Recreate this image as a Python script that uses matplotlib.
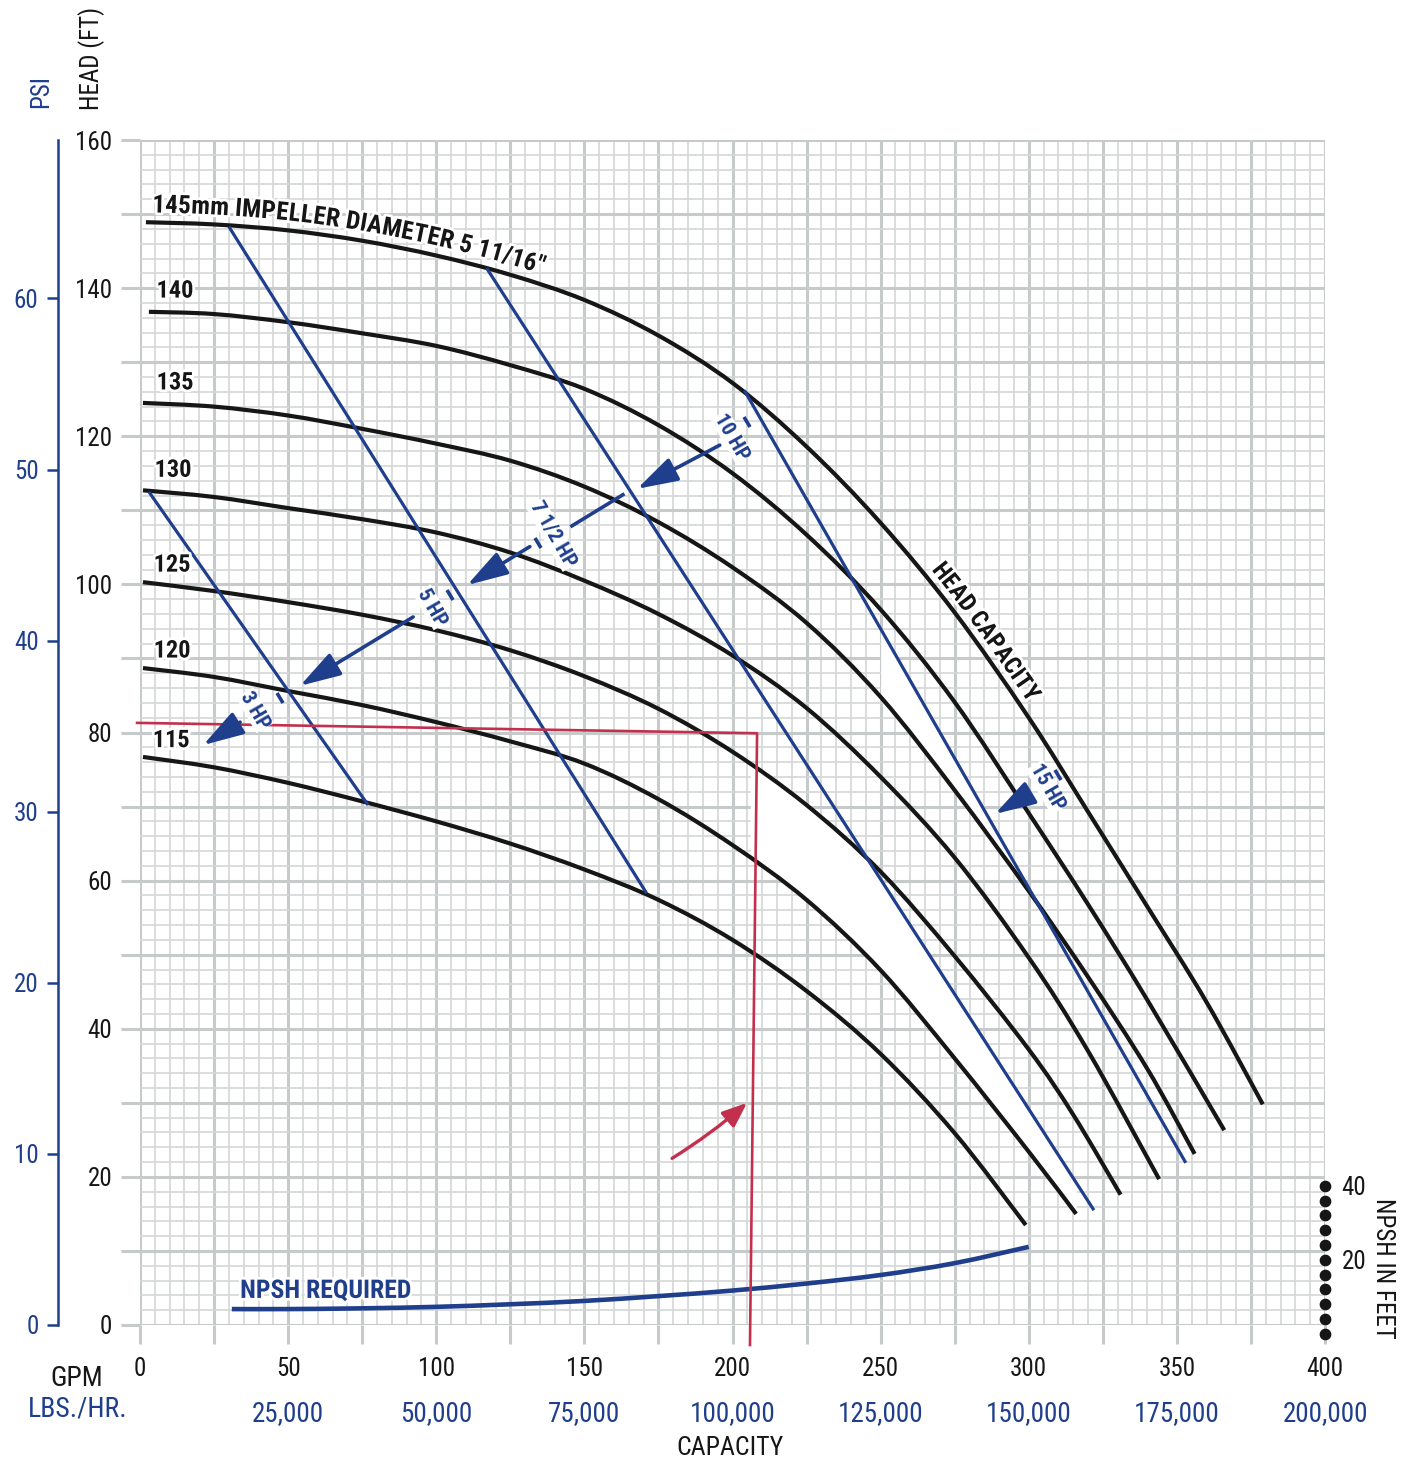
import numpy as np
import matplotlib
matplotlib.use('Agg')
import matplotlib.pyplot as plt
import matplotlib.patheffects as pe
from matplotlib.font_manager import FontProperties
from matplotlib.markers import MarkerStyle
from matplotlib.patches import PathPatch
from matplotlib.path import Path
from matplotlib.transforms import Affine2D
from matplotlib.ticker import MultipleLocator, FixedLocator, FuncFormatter

BLACK = '#161616'
BLUE = '#1f3e8c'
RED = '#c3304e'
GRID_MAJOR = '#c6caca'
GRID_MINOR = '#d4d7d7'
FONT = ['Roboto Condensed', 'DejaVu Sans']

plt.rcParams['font.family'] = FONT

# impeller curves: capacity (GPM) / head (ft)
D145_Q = [2, 25, 50, 75, 100, 125, 150, 175, 200, 225, 250, 275, 300, 320, 340, 360, 379]
D145_H = [148.9, 148.6, 147.8, 146.4, 144.4, 141.8, 138.4, 133.6, 127.2, 118.6, 108.3, 96.2, 82.0, 69.3, 56.5, 43.6, 29.8]
D140_Q = [3, 25, 50, 75, 100, 125, 150, 175, 200, 225, 250, 275, 300, 320, 340, 366]
D140_H = [136.8, 136.5, 135.4, 133.9, 132.2, 129.6, 126.4, 121.5, 115.0, 106.7, 96.6, 84.1, 69.1, 56.8, 43.9, 26.3]
D135_Q = [1, 25, 50, 75, 100, 125, 150, 175, 200, 225, 250, 275, 300, 320, 340, 356]
D135_H = [124.5, 124.0, 122.8, 121.0, 119.0, 116.7, 113.2, 108.4, 102.3, 94.8, 84.8, 72.2, 58.6, 47.0, 34.6, 23.1]
D130_Q = [1, 25, 50, 75, 100, 125, 150, 175, 200, 225, 250, 275, 300, 320, 344]
D130_H = [112.7, 111.8, 110.3, 108.8, 107.0, 104.3, 100.5, 96.0, 90.4, 83.3, 74.0, 63.1, 49.6, 37.0, 19.7]
D125_Q = [1, 25, 50, 75, 100, 125, 150, 175, 200, 225, 250, 275, 300, 315, 331]
D125_H = [100.3, 99.1, 97.6, 95.9, 93.8, 91.1, 87.6, 83.2, 77.4, 70.2, 61.2, 49.8, 37.2, 28.4, 17.6]
D120_Q = [1, 25, 50, 75, 100, 125, 150, 175, 200, 225, 250, 275, 300, 316]
D120_H = [88.7, 87.5, 85.6, 83.7, 81.4, 78.8, 75.8, 71.0, 64.8, 57.4, 47.9, 36.0, 23.4, 15.0]
D115_Q = [1, 25, 50, 75, 100, 125, 150, 175, 200, 225, 250, 275, 299]
D115_H = [76.7, 75.3, 73.2, 70.7, 68.0, 65.0, 61.5, 57.4, 52.0, 45.1, 36.6, 25.9, 13.5]

CURVES = [(D145_Q, D145_H), (D140_Q, D140_H), (D135_Q, D135_H), (D130_Q, D130_H),
          (D125_Q, D125_H), (D120_Q, D120_H), (D115_Q, D115_H)]
CURVE_LABELS = ['140', '135', '130', '125', '120', '115']
CURVE_LABEL_Q = [11.8, 11.8, 11.1, 10.8, 10.8, 10.5]
CURVE_LABEL_H = [139.6, 127.2, 115.4, 102.6, 91.0, 78.9]

# horsepower limit lines (start, end)
HP_LINE_Q = [(3, 77), (30, 171), (117, 322), (204, 353)]
HP_LINE_H = [(112.5, 70.2), (148.3, 58.3), (142.7, 15.5), (126.2, 21.9)]

HP_NAMES = ['10 HP', '7 1/2 HP', '5 HP', '3 HP', '15 HP']
HP_LABEL_Q = [199.8, 139.4, 98.6, 38.8, 306.2]
HP_LABEL_H = [119.9, 106.7, 96.9, 83.0, 72.6]
HP_TICK_Q = [204.9, 134.3, 104.6, 47.3, 309.9]
HP_TICK_H = [121.9, 105.6, 98.6, 84.7, 74.3]
ARROW_TAIL_Q = [195.7, 131.6, 92.2, 33.8, 298.7]
ARROW_TAIL_H = [118.8, 105.1, 95.6, 81.4, 71.4]
ARROW_TIP_Q = [167.8, 110.4, 54.0, 21.3, 288.6]
ARROW_TIP_H = [112.9, 99.9, 86.3, 78.3, 69.0]
EXTRA_SEG_Q = [163.0, 145.8]
EXTRA_SEG_H = [112.1, 107.9]

# NPSH required (ft, read on the right-hand scale)
NPSH_Q = [31, 50, 75, 100, 125, 150, 175, 200, 225, 250, 275, 300]
NPSH_FT = [6.7, 6.7, 6.9, 7.3, 8.0, 8.9, 10.2, 11.7, 13.6, 15.9, 19.1, 23.5]
NPSH_DOTS = list(range(0, 41, 4))

# red duty point
RED_Q = [-1.0, 208.3, 205.9]
RED_H = [81.3, 79.9, -2.7]
RED_ARROW_FROM = (179.6, 22.5)
RED_ARROW_TO = (204.9, 30.0)

LBS_TICKS = [25000 * i for i in range(1, 9)]
PSI_TICKS = list(range(0, 61, 10))


def npsh_to_head(v):
    return np.asarray(v, dtype=float) * 0.5 - 1.2


def head_to_npsh(h):
    return (np.asarray(h, dtype=float) + 1.2) / 0.5


def line_at(q, ends_q, ends_h):
    return ends_h[0] + (np.asarray(q) - ends_q[0]) * (ends_h[1] - ends_h[0]) / (ends_q[1] - ends_q[0])


def smooth_path(q, h):
    # Catmull-Rom through the read points, drawn as cubic Bezier segments
    p = np.column_stack([q, h]).astype(float)
    n = len(p)
    verts, codes = [p[0]], [Path.MOVETO]
    for i in range(n - 1):
        p0 = p[i - 1] if i > 0 else p[i]
        p3 = p[i + 2] if i + 2 < n else p[i + 1]
        verts += [p[i] + (p[i + 1] - p0) / 6, p[i + 1] - (p3 - p[i]) / 6, p[i + 1]]
        codes += [Path.CURVE4] * 3
    return Path(verts, codes)


def text_along(ax, text, path, start_q, offset_px, prop, color):
    # lay characters one by one along a curve, in screen space
    r = ax.figure.canvas.get_renderer()
    pts = ax.transData.transform_path(path).to_polygons(closed_only=False)[0]
    cum = np.concatenate([[0], np.cumsum(np.hypot(*np.diff(pts, axis=0).T))])
    x0 = ax.transData.transform((start_q, 0))[0]
    s0 = np.interp(x0, pts[:, 0], cum)
    widths = [0.0] + [r.get_text_width_height_descent(text[:i], prop, ismath=False)[0]
                      for i in range(1, len(text) + 1)]
    inv = ax.transData.inverted()
    for i, ch in enumerate(text):
        if ch == ' ':
            continue
        s = s0 + 0.5 * (widths[i] + widths[i + 1])
        k = int(np.clip(np.searchsorted(cum, s), 1, len(cum) - 1))
        d = pts[k] - pts[k - 1]
        ang = np.arctan2(d[1], d[0])
        p = np.array([np.interp(s, cum, pts[:, 0]), np.interp(s, cum, pts[:, 1])])
        p = p + offset_px * np.array([-np.sin(ang), np.cos(ang)])
        q, h = inv.transform(p)
        ax.text(q, h, ch, fontproperties=prop, color=color, rotation=np.degrees(ang),
                rotation_mode='anchor', ha='center', va='baseline', zorder=6,
                path_effects=[pe.withStroke(linewidth=4, foreground='white')])


fig = plt.figure(figsize=(14.1, 14.62), dpi=100)
ax = fig.add_axes([140 / 1410, 137 / 1462, 1185 / 1410, 1185 / 1462])
ax.set_xlim(0, 400)
ax.set_ylim(0, 160)
for s in ax.spines.values():
    s.set_visible(False)

ax.xaxis.set_major_locator(MultipleLocator(25))
ax.xaxis.set_minor_locator(MultipleLocator(5))
ax.yaxis.set_major_locator(MultipleLocator(10))
ax.yaxis.set_minor_locator(MultipleLocator(2))
ax.xaxis.set_major_formatter(FuncFormatter(lambda v, _: f'{v:.0f}' if v % 50 == 0 else ''))
ax.yaxis.set_major_formatter(FuncFormatter(lambda v, _: f'{v:.0f}' if v % 20 == 0 else ''))
ax.set_axisbelow(True)
ax.grid(which='minor', color=GRID_MINOR, lw=1.2)
ax.grid(which='major', color=GRID_MAJOR, lw=2.2)
ax.tick_params(which='minor', length=0)
ax.tick_params(axis='y', which='major', length=14, width=2.2, color=GRID_MAJOR, pad=6,
               labelsize=18, labelcolor=BLACK)
ax.tick_params(axis='x', which='major', length=14, width=2.2, color=GRID_MAJOR, pad=9,
               labelsize=18, labelcolor=BLACK)

# white patches of the scanned sheet
qq = np.linspace(206, 316, 200)
low = np.interp(qq, D120_Q, D120_H)
top = np.minimum(np.interp(qq, D125_Q, D125_H), line_at(qq, HP_LINE_Q[2], HP_LINE_H[2]))
ax.fill_between(qq, low, top, where=top > low, color='white', lw=0, zorder=1)
qq2 = np.linspace(250, 295, 100)
low2 = np.interp(qq2, D135_Q, D135_H)
top2 = line_at(qq2, HP_LINE_Q[3], HP_LINE_H[3])
ax.fill_between(qq2, low2, top2, where=top2 > low2, color='white', lw=0, zorder=1)

paths = [smooth_path(q, h) for q, h in CURVES]
for path in paths:
    ax.add_patch(PathPatch(path, fc='none', ec=BLACK, lw=3.0, capstyle='butt', zorder=3))
for q, h in zip(HP_LINE_Q, HP_LINE_H):
    ax.plot(q, h, color=BLUE, lw=2.3, solid_capstyle='butt', zorder=3)

ax.add_patch(PathPatch(smooth_path(NPSH_Q, npsh_to_head(NPSH_FT)), fc='none', ec=BLUE, lw=3.3,
                       capstyle='butt', zorder=3))
ax.scatter([400] * len(NPSH_DOTS), npsh_to_head(NPSH_DOTS), s=55, color=BLACK,
           clip_on=False, zorder=5)

halo = [pe.withStroke(linewidth=4, foreground='white')]
for lab, q, h in zip(CURVE_LABELS, CURVE_LABEL_Q, CURVE_LABEL_H):
    ax.text(q, h, lab, fontsize=17.5, fontweight='bold', color=BLACK, ha='center', va='center',
            path_effects=halo, zorder=6)

bold_title = FontProperties(family=FONT, weight='bold', size=18.3)
text_along(ax, '145mm IMPELLER DIAMETER 5 11/16"', paths[0], 4, 10, bold_title, BLACK)
bold_hc = FontProperties(family=FONT, weight='bold', size=17.5)
text_along(ax, 'HEAD CAPACITY', paths[0], 265, 8, bold_hc, BLACK)

ax.text(33.8, 4.6, 'NPSH REQUIRED', fontsize=18.5, fontweight='bold', color=BLUE,
        ha='left', va='center', path_effects=halo, zorder=6)

# horsepower arrows
bar = MarkerStyle('|', transform=Affine2D().rotate_deg(30))
for name, lq, lh, tq, th, aq, ah, pq, ph in zip(HP_NAMES, HP_LABEL_Q, HP_LABEL_H, HP_TICK_Q, HP_TICK_H,
                                                ARROW_TAIL_Q, ARROW_TAIL_H, ARROW_TIP_Q, ARROW_TIP_H):
    ax.text(lq, lh, name, fontsize=15, fontweight='bold', color=BLUE, ha='center', va='center',
            rotation=-60, rotation_mode='anchor',
            bbox=dict(facecolor='white', edgecolor='none', pad=0.5), zorder=6)
    ax.plot([tq], [th], marker=bar, ms=9, mew=2.6, color=BLUE, zorder=6)
    ax.annotate('', xy=(pq, ph), xytext=(aq, ah), zorder=6,
                arrowprops=dict(arrowstyle='-|>,head_length=1.25,head_width=0.38', color=BLUE,
                                lw=2.6, mutation_scale=20, shrinkA=0, shrinkB=0))
ax.plot(EXTRA_SEG_Q, EXTRA_SEG_H, color=BLUE, lw=2.6, zorder=6)

# red duty point
ax.plot(RED_Q, RED_H, color=RED, lw=1.9, clip_on=False, zorder=4)
ax.annotate('', xy=RED_ARROW_TO, xytext=RED_ARROW_FROM, zorder=4,
            arrowprops=dict(arrowstyle='-|>,head_length=0.75,head_width=0.3', color=RED, lw=2.4,
                            mutation_scale=20, shrinkA=0, shrinkB=0,
                            connectionstyle='arc3,rad=0.04'))

# PSI scale
secy = ax.secondary_yaxis((58 - 140) / 1185, functions=(lambda h: h / 2.31, lambda p: p * 2.31))
secy.yaxis.set_major_locator(FixedLocator(PSI_TICKS))
secy.spines['left'].set_color(BLUE)
secy.spines['left'].set_linewidth(1.8)
secy.tick_params(length=8, width=1.8, color=BLUE, labelcolor=BLUE, labelsize=18, pad=6)

# LBS./HR. scale
secx = ax.secondary_xaxis('bottom', functions=(lambda q: q * 500, lambda l: l / 500))
secx.xaxis.set_major_locator(FixedLocator(LBS_TICKS))
secx.xaxis.set_major_formatter(FuncFormatter(lambda v, _: f'{v:,.0f}'))
secx.spines['bottom'].set_visible(False)
secx.tick_params(length=0, pad=54, labelcolor=BLUE, labelsize=19.5)

# NPSH scale
secr = ax.secondary_yaxis('right', functions=(head_to_npsh, npsh_to_head))
secr.yaxis.set_major_locator(FixedLocator([20, 40]))
secr.spines['right'].set_visible(False)
secr.tick_params(length=0, pad=12, labelsize=18, labelcolor=BLACK)

ax.text(-33.4, 166.5, 'PSI', fontsize=18, color=BLUE, rotation=90, ha='center', va='center', clip_on=False)
ax.text(-16.5, 171.0, 'HEAD (FT)', fontsize=18, color=BLACK, rotation=90, ha='center', va='center', clip_on=False)
ax.text(-21.3, -7.2, 'GPM', fontsize=20, color=BLACK, ha='center', va='center', clip_on=False)
ax.text(-20.9, -11.3, 'LBS./HR.', fontsize=20, color=BLUE, ha='center', va='center', clip_on=False)
ax.text(199.2, -16.6, 'CAPACITY', fontsize=18.5, color=BLACK, ha='center', va='center', clip_on=False)
ax.text(419.6, 7.7, 'NPSH IN FEET', fontsize=18, color=BLACK, rotation=270, ha='center', va='center', clip_on=False)

fig.savefig('out.png', dpi=100)
